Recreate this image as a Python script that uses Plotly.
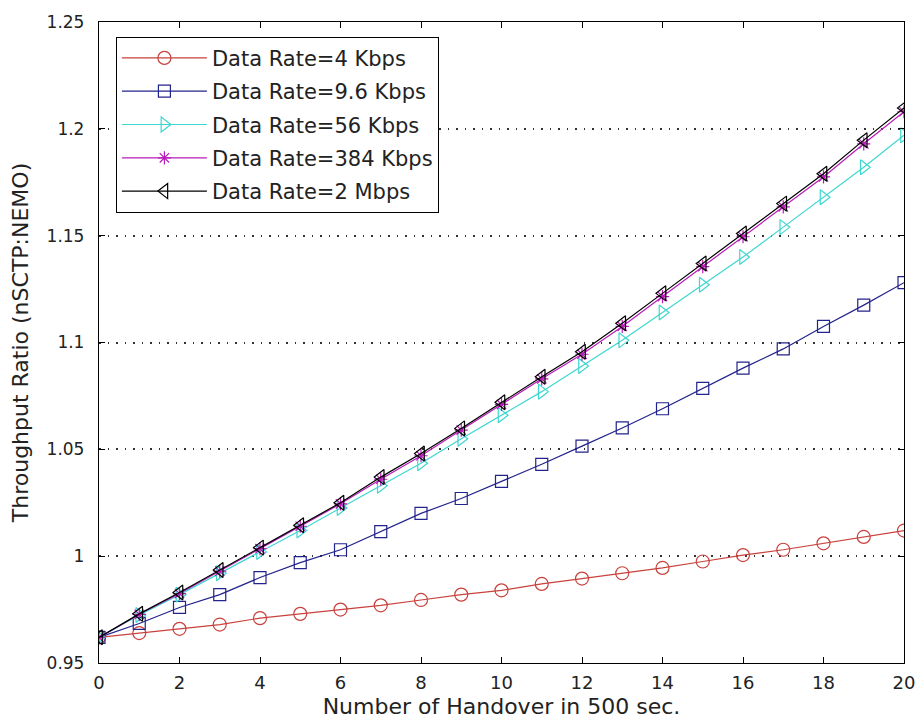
import plotly.graph_objects as go

handovers = list(range(0, 21))

rate_4k = [0.962, 0.964, 0.966, 0.968, 0.971, 0.973, 0.975, 0.977, 0.9795, 0.982, 0.984,
           0.987, 0.9895, 0.992, 0.9945, 0.9975, 1.0005, 1.003, 1.006, 1.009, 1.012]
rate_9k6 = [0.962, 0.9685, 0.976, 0.982, 0.990, 0.997, 1.003, 1.0115, 1.020, 1.027, 1.035,
            1.043, 1.0515, 1.060, 1.069, 1.0785, 1.088, 1.097, 1.1075, 1.1175, 1.128]
rate_56k = [0.962, 0.9725, 0.982, 0.992, 1.002, 1.012, 1.0225, 1.033, 1.0435, 1.055, 1.066,
            1.077, 1.089, 1.101, 1.114, 1.127, 1.140, 1.154, 1.168, 1.182, 1.197]
rate_384k = [0.962, 0.9728, 0.9825, 0.993, 1.0035, 1.014, 1.0245, 1.036, 1.047, 1.059, 1.071,
             1.083, 1.0945, 1.1075, 1.1215, 1.1355, 1.1495, 1.1635, 1.1775, 1.193, 1.208]
rate_2m = [0.962, 0.973, 0.983, 0.9935, 1.004, 1.0145, 1.025, 1.037, 1.048, 1.0598, 1.072,
           1.084, 1.0957, 1.109, 1.123, 1.137, 1.151, 1.165, 1.179, 1.1947, 1.2098]

series_names = ["Data Rate=4 Kbps", "Data Rate=9.6 Kbps", "Data Rate=56 Kbps",
                "Data Rate=384 Kbps", "Data Rate=2 Mbps"]
series_values = [rate_4k, rate_9k6, rate_56k, rate_384k, rate_2m]
colors = ["#c8413c", "#23238c", "#3ed6d0", "#b81cb8", "#000000"]
symbols = ["circle-open", "square-open", "triangle-right-open", "asterisk-open", "triangle-left-open"]
sizes = [13, 12, 13, 11, 13]

x_ticks = list(range(0, 21, 2))
y_tickvals = [0.95, 1.0, 1.05, 1.1, 1.15, 1.2, 1.25]
y_ticktext = ["0.95", "1", "1.05", "1.1", "1.15", "1.2", "1.25"]

fig = go.Figure()
for i, (name, vals) in enumerate(zip(series_names, series_values)):
    fig.add_trace(go.Scatter(
        x=handovers, y=vals, name=name, mode="lines+markers",
        line=dict(color=colors[i], width=1.2),
        marker=dict(symbol=symbols[i], size=sizes[i], color=colors[i],
                    line=dict(color=colors[i], width=1.2)),
        legendgroup=f"g{i}",
    ))

font_family = "DejaVu Sans, Arial, sans-serif"
fig.update_layout(
    width=908, height=711,
    margin=dict(l=91, r=12, t=14, b=56),
    paper_bgcolor="white", plot_bgcolor="white",
    font=dict(family=font_family, size=16, color="#222222"),
    showlegend=True,
    legend=dict(x=0.021, y=0.977, xanchor="left", yanchor="top",
                bgcolor="white", bordercolor="black", borderwidth=1,
                font=dict(size=21), itemwidth=85, tracegroupgap=3,
                traceorder="grouped"),
    xaxis=dict(range=[0, 20], tickvals=x_ticks, showgrid=False, zeroline=False,
               ticks="inside", ticklen=6, tickcolor="black", showline=True,
               linecolor="black", linewidth=1.3, mirror="ticks", automargin=False,
               ticklabelstandoff=3, ticklabeloverflow="allow",
               title=dict(text="Number of Handover in 500 sec.", standoff=23,
                          font=dict(size=22)),
               tickfont=dict(size=18)),
    yaxis=dict(range=[0.95, 1.25], tickvals=y_tickvals, ticktext=y_ticktext,
               showgrid=True, gridcolor="#333333", griddash="1.5px,7px", gridwidth=1.5,
               zeroline=False, ticks="inside", ticklen=6, tickcolor="black",
               showline=True, linecolor="black", linewidth=1.3, mirror="ticks",
               automargin=False, ticklabelstandoff=10,
               title=dict(text="Throughput Ratio (nSCTP:NEMO)", standoff=12,
                          font=dict(size=22)),
               tickfont=dict(size=17)),
)

fig.write_html("out.html")
